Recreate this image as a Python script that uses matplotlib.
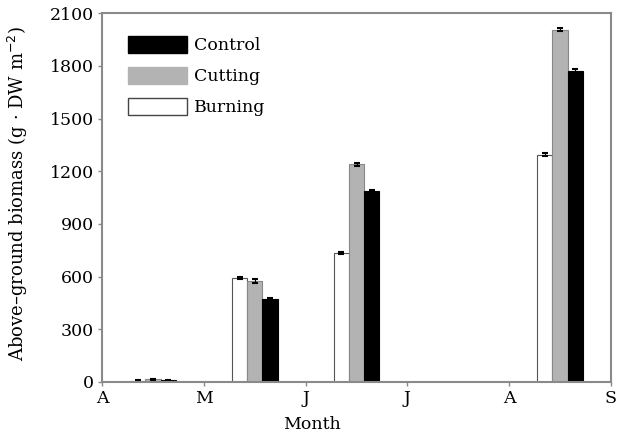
import numpy as np
import matplotlib.pyplot as plt
from matplotlib.patches import Patch

# months on x axis, 0 = 1 April ... 5 = 1 September
MONTH_TICKS = [0, 1, 2, 3, 4, 5]
MONTH_LABELS = ["A", "M", "J", "J", "A", "S"]

# sampling dates (month position) and biomass, g DW m-2
sample_pos = [0.5, 1.5, 2.5, 4.5]
burning = [6, 590, 735, 1295]
cutting = [15, 575, 1240, 2005]
control = [10, 470, 1085, 1770]
burning_err = [3, 6, 6, 8]
cutting_err = [4, 10, 8, 8]
control_err = [3, 8, 8, 10]

BAR_W = 0.15
AXIS_GREY = "#8a8a8a"

plt.rcParams["font.family"] = ["DejaVu Serif"]

fig = plt.figure(figsize=(6.31, 4.38), dpi=100)
ax = fig.add_axes([0.162, 0.128, 0.806, 0.842])

x = np.array(sample_pos)
err_kw = dict(ecolor="black", capsize=2, elinewidth=0.8, capthick=1.5)
ax.bar(x - BAR_W, burning, BAR_W, color="white", edgecolor="#555555",
       linewidth=0.8, yerr=burning_err, error_kw=err_kw, zorder=2)
ax.bar(x, cutting, BAR_W, color="#b3b3b3", edgecolor="#888888",
       linewidth=0.8, yerr=cutting_err, error_kw=err_kw, zorder=2)
ax.bar(x + BAR_W, control, BAR_W, color="black", edgecolor="black",
       linewidth=0.8, yerr=control_err, error_kw=err_kw, zorder=2)

ax.set_xlim(0, 5)
ax.set_ylim(0, 2100)
ax.set_xticks(MONTH_TICKS)
ax.set_xticklabels(MONTH_LABELS)
ax.set_yticks(range(0, 2101, 300))

for sp in ax.spines.values():
    sp.set_color(AXIS_GREY)
    sp.set_linewidth(1.5)
ax.tick_params(direction="out", length=3, width=1, color=AXIS_GREY,
               labelsize=12.5, pad=3)

ax.set_xlabel("Month", fontsize=12.5)
ax.xaxis.set_label_coords(0.413, -0.092)
ax.set_ylabel("Above\u2013ground biomass (g \u00b7 DW m$^{-2}$)", fontsize=13)
ax.yaxis.set_label_coords(-0.142, 0.51)

handles = [
    Patch(facecolor="black", edgecolor="black", label="Control"),
    Patch(facecolor="#b3b3b3", edgecolor="#b3b3b3", label="Cutting"),
    Patch(facecolor="white", edgecolor="#444444", label="Burning"),
]
ax.legend(handles=handles, loc="upper left", bbox_to_anchor=(0.03, 0.965),
          frameon=False, fontsize=12.5, handlelength=3.4, handleheight=1.05,
          handletextpad=0.4, labelspacing=0.75, borderaxespad=0.2)

fig.savefig("out.png", dpi=100)
